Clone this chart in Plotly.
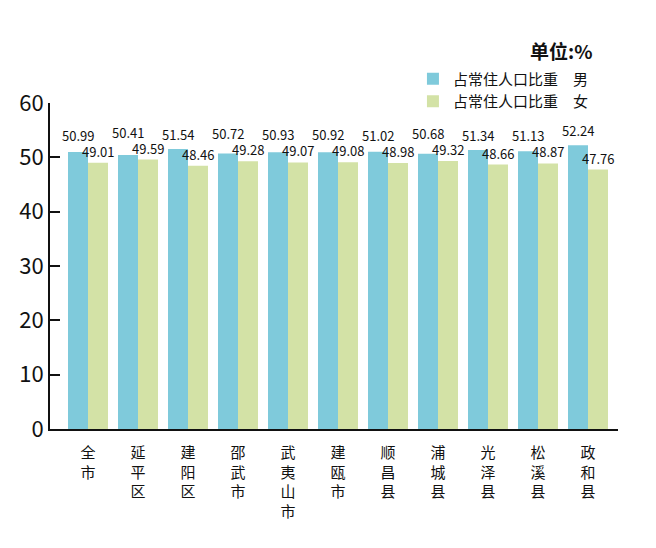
import plotly.graph_objects as go

categories = ["全市", "延平区", "建阳区", "邵武市", "武夷山市", "建瓯市", "顺昌县", "浦城县", "光泽县", "松溪县", "政和县"]
male = [50.99, 50.41, 51.54, 50.72, 50.93, 50.92, 51.02, 50.68, 51.34, 51.13, 52.24]
female = [49.01, 49.59, 48.46, 49.28, 49.07, 49.08, 48.98, 49.32, 48.66, 48.87, 47.76]
y_ticks = [0, 10, 20, 30, 40, 50, 60]

font = "Noto Sans CJK SC"
tick_text = ["<br>".join(list(c)) for c in categories]
PX_PER_UNIT = 326 / 60

fig = go.Figure()
fig.add_trace(go.Bar(
    x=categories, y=male, name="占常住人口比重\u3000男",
    marker=dict(color="#7fcadb", line=dict(width=0)),
))
fig.add_trace(go.Bar(
    x=categories, y=female, name="占常住人口比重\u3000女",
    marker=dict(color="#d3e2a6", line=dict(width=0)),
))

annotations = []
for c, m, f in zip(categories, male, female):
    gap = (m - f) * PX_PER_UNIT
    annotations.append(dict(
        x=c, y=m, xref="x", yref="y", text=f"{m:.2f}", showarrow=False,
        xanchor="center", yanchor="bottom", xshift=-10, yshift=max(3, 16 - gap),
        font=dict(size=13, family=font, color="#111111"),
    ))
    annotations.append(dict(
        x=c, y=f, xref="x", yref="y", text=f"{f:.2f}", showarrow=False,
        xanchor="center", yanchor="bottom", xshift=10, yshift=0,
        font=dict(size=13, family=font, color="#111111"),
    ))
annotations.append(dict(
    text="<b>单位:%</b>", xref="paper", yref="paper", x=0.958, y=1.16,
    xanchor="right", yanchor="middle", showarrow=False,
    font=dict(size=19, family=font, color="#111111"),
))

fig.update_layout(
    width=656, height=548,
    margin=dict(l=42, r=46, t=95, b=127, autoexpand=False),
    paper_bgcolor="white", plot_bgcolor="white",
    barmode="group", bargap=0.2, bargroupgap=0,
    font=dict(family=font, color="#111111"),
    showlegend=True,
    legend=dict(x=0.639, y=1.124, xanchor="left", yanchor="top",
                font=dict(size=15, family=font, color="#111111"),
                itemwidth=30, tracegroupgap=0, bgcolor="rgba(0,0,0,0)"),
    xaxis=dict(
        range=[-0.76, 10.6], tickmode="array", tickvals=categories, ticktext=tick_text,
        tickfont=dict(size=15, family=font, color="#111111"),
        ticklabelstandoff=9,
        showline=True, linecolor="#111111", linewidth=2, automargin=False,
        ticks="", showgrid=False, zeroline=False,
    ),
    yaxis=dict(
        range=[0, 60], tickvals=y_ticks,
        tickfont=dict(size=22, family=font, color="#111111"),
        showline=True, linecolor="#111111", linewidth=2, automargin=False,
        ticks="inside", ticklen=10, tickwidth=2, tickcolor="#111111",
        showgrid=False, zeroline=False,
    ),
    annotations=annotations,
)

fig.write_html("out.html")
